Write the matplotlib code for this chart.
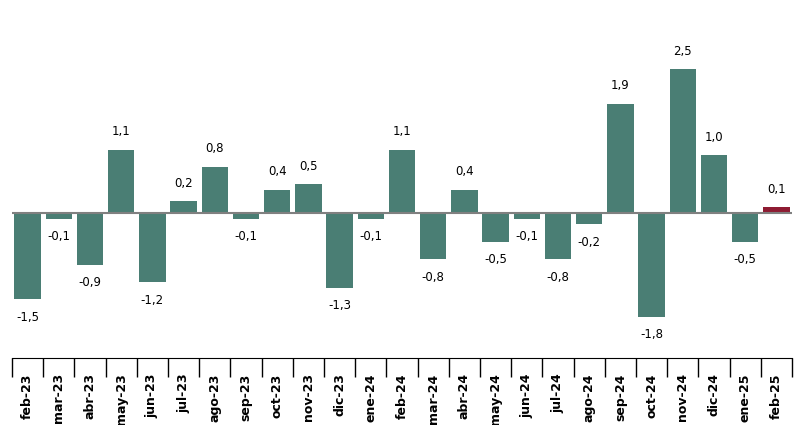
import numpy as np
import matplotlib.pyplot as plt

months = ['feb-23', 'mar-23', 'abr-23', 'may-23', 'jun-23', 'jul-23', 'ago-23', 'sep-23',
          'oct-23', 'nov-23', 'dic-23', 'ene-24', 'feb-24', 'mar-24', 'abr-24', 'may-24',
          'jun-24', 'jul-24', 'ago-24', 'sep-24', 'oct-24', 'nov-24', 'dic-24', 'ene-25', 'feb-25']
values = [-1.5, -0.1, -0.9, 1.1, -1.2, 0.2, 0.8, -0.1, 0.4, 0.5, -1.3, -0.1, 1.1, -0.8,
          0.4, -0.5, -0.1, -0.8, -0.2, 1.9, -1.8, 2.5, 1.0, -0.5, 0.1]

teal = '#4a7e74'
red = '#8e1b32'
colors = [teal] * (len(values) - 1) + [red]

fig = plt.figure(figsize=(8.03, 4.25), dpi=100)
ax = fig.add_axes([12 / 803, 1 - 358 / 425, 780 / 803, 358 / 425])
x = np.arange(len(values))
ax.bar(x, values, width=0.84, color=colors)
ax.axhline(0, color='#808080', linewidth=1.5, zorder=3)
ax.set_xlim(-0.5, len(values) - 0.5)
ax.set_ylim(-2.52, 3.7)

for xi, v in zip(x, values):
    lab = f'{v:.1f}'.replace('.', ',')
    if v >= 0:
        ax.text(xi, v + 0.2, lab, ha='center', va='bottom', fontsize=8.5)
    else:
        ax.text(xi, v - 0.2, lab, ha='center', va='top', fontsize=8.5)

for s in ['top', 'right', 'left']:
    ax.spines[s].set_visible(False)
ax.spines['bottom'].set_position(('data', -2.52))
ax.set_yticks([])
ax.set_xticks(np.arange(-0.5, len(values), 1))
ax.set_xticklabels([])
ax.tick_params(axis='x', length=14, width=1)
ax.set_xticks(x, minor=True)
ax.set_xticklabels(months, minor=True, rotation=90, fontsize=9, fontweight='semibold',
                   ha='center', va='top')
ax.tick_params(axis='x', which='minor', length=0, pad=11)

fig.savefig('out.png', dpi=100)
